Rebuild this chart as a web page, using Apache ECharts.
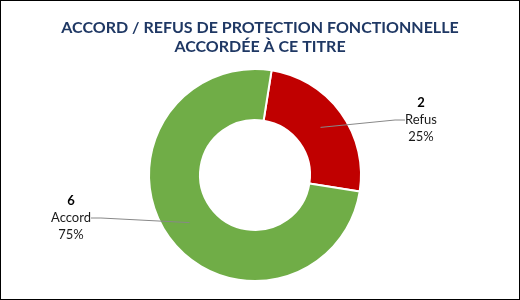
<!DOCTYPE html>
<html><head><meta charset="utf-8">
<script src="https://cdn.jsdelivr.net/npm/echarts@6/dist/echarts.min.js"></script>
<style>
html,body{margin:0;padding:0;background:#fff;}
#c{position:absolute;left:0;top:0;width:518px;height:298px;border:1px solid #000;}
</style></head>
<body><div id="c"></div>
<script>
const titleText = 'ACCORD / REFUS DE PROTECTION FONCTIONNELLE\nACCORDÉE À CE TITRE';
const categories = ['Refus', 'Accord'];
const values = [2, 6];
const colors = ['#C00000', '#70AD47'];

const data = categories.map((c, i) => ({ name: c, value: values[i], itemStyle: { color: colors[i] } }));
const labelPos = { 'Refus': [420, 119], 'Accord': [70, 217] };

const chart = echarts.init(document.getElementById('c'));
chart.setOption({
  animation: false,
  title: {
    text: titleText, left: 'center', top: 12,
    textStyle: { fontFamily: 'Lato', fontWeight: 'bold', fontSize: 16, lineHeight: 19, color: '#1F3864' }
  },
  series: [{
    type: 'pie', center: [254, 174], radius: [55, 106], startAngle: 81, clockwise: true, z: 2,
    itemStyle: { borderColor: '#fff', borderWidth: 2 },
    label: { show: false }, labelLine: { show: false },
    silent: true, data: data
  }, {
    type: 'pie', center: [254, 174], radius: [0, 81], startAngle: 81, clockwise: true, z: 5, zlevel: 1,
    itemStyle: { color: 'rgba(0,0,0,0)' }, silent: true,
    data: categories.map((c, i) => ({ name: c, value: values[i] })),
    label: {
      show: true, position: 'outside',
      formatter: '{v|{c}}\n{n|{b}}\n{n|{d}%}',
      align: 'center',
      rich: {
        v: { fontFamily: 'Lato', fontWeight: 'bold', fontSize: 13, color: '#000', lineHeight: 17, align: 'center' },
        n: { fontFamily: 'Lato', fontSize: 13, color: '#1a1a1a', lineHeight: 17, align: 'center' }
      }
    },
    labelLine: { show: true, length: 10, length2: 10, lineStyle: { color: '#888', width: 1 } },
    labelLayout: function (p) {
      const pos = labelPos[categories[p.dataIndex]];
      return { x: pos[0], y: pos[1], align: 'center', verticalAlign: 'middle' };
    }
  }]
});
</script></body></html>
